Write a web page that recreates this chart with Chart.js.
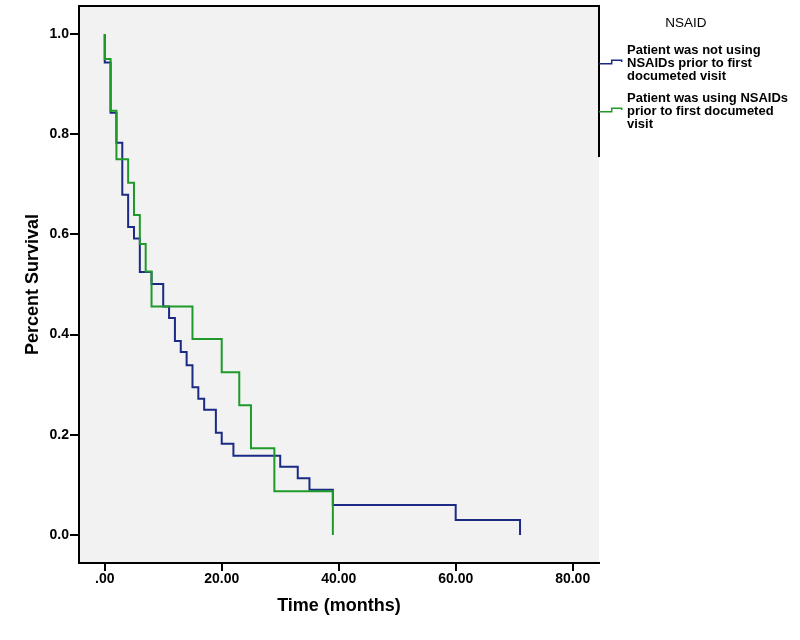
<!DOCTYPE html>
<html>
<head>
<meta charset="utf-8">
<title>NSAID survival</title>
<script src="https://cdn.jsdelivr.net/npm/chart.js@4.4.1/dist/chart.umd.min.js"></script>
<style>
  html, body { margin: 0; padding: 0; background: #fff; }
  #wrap { position: relative; width: 800px; height: 640px; }
  #legend { position: absolute; left: 0; top: 0; font-family: 'Liberation Sans', Arial, sans-serif; color: #000; }
  .lgTitle { position: absolute; left: 644px; width: 84px; top: 15px; text-align: center; font-size: 13.5px; line-height: 16px; }
  .lgItem { position: absolute; left: 599px; }
  .lgItem svg { position: absolute; left: 0; }
  .lgItem span { position: absolute; left: 28px; white-space: nowrap; font-weight: bold; font-size: 13px; line-height: 13px; }
</style>
</head>
<body>
<div id="wrap">
  <canvas id="kmChart" width="800" height="640"></canvas>
  <div id="legend"></div>
</div>
<script>
// Kaplan-Meier steps (time in months, survival after the drop)
const notUsingTime = [0, 0, 1, 2, 3, 4, 5, 6, 8, 10, 11, 12, 13, 14, 15, 16, 17, 19, 20, 22, 30, 33, 35, 39, 60, 71];
const notUsingSurv = [1.0, 0.943, 0.843, 0.783, 0.679, 0.615, 0.592, 0.525, 0.501, 0.456, 0.433, 0.387, 0.365, 0.339, 0.295, 0.272, 0.25, 0.204, 0.182, 0.158, 0.136, 0.113, 0.09, 0.06, 0.03, 0];
const usingTime = [0, 0, 1, 2, 4, 5, 6, 7, 8, 15, 20, 23, 25, 29, 39];
const usingSurv = [1.0, 0.95, 0.847, 0.75, 0.703, 0.639, 0.581, 0.526, 0.456, 0.391, 0.325, 0.259, 0.173, 0.087, 0];

const xTickValues = [0, 20, 40, 60, 80];
const xTickLabels = [".00", "20.00", "40.00", "60.00", "80.00"];
const yTickValues = [0, 0.2, 0.4, 0.6, 0.8, 1.0];
const yTickLabels = ["0.0", "0.2", "0.4", "0.6", "0.8", "1.0"];

const legendTitle = "NSAID";
const seriesNames = [
  ["Patient was not using", "NSAIDs prior to first", "documeted visit"],
  ["Patient was using NSAIDs", "prior to first documeted", "visit"],
];
const seriesColors = ["#1b2a84", "#1f9a2a"];

function toPoints(times, surv) {
  return times.map((t, i) => ({ x: t, y: surv[i] }));
}

// grey plot area plus the top frame line and the short right line by the legend
const plotFrame = {
  id: "plotFrame",
  beforeDraw(chart) {
    const { ctx, chartArea: a } = chart;
    ctx.save();
    ctx.fillStyle = "#f2f2f2";
    ctx.fillRect(a.left, a.top, a.right - a.left, a.bottom - a.top);
    ctx.restore();
  },
  afterDraw(chart) {
    const { ctx, chartArea: a } = chart;
    ctx.save();
    ctx.strokeStyle = "#000";
    ctx.lineWidth = 2;
    ctx.beginPath();
    ctx.moveTo(a.left, a.top);
    ctx.lineTo(a.right, a.top);
    ctx.lineTo(a.right, 157);
    ctx.stroke();
    ctx.restore();
  },
};

Chart.defaults.font.family = "'Liberation Sans', Arial, sans-serif";
Chart.defaults.color = "#000";

const tickFont = { size: 14, weight: "bold" };
const titleFont = { size: 18, weight: "bold" };

new Chart(document.getElementById("kmChart"), {
  type: "line",
  data: {
    datasets: [
      {
        label: seriesNames[0].join(" "),
        data: toPoints(notUsingTime, notUsingSurv),
        borderColor: seriesColors[0],
        borderWidth: 2,
        stepped: true,
        pointRadius: 0,
        order: 2,
      },
      {
        label: seriesNames[1].join(" "),
        data: toPoints(usingTime, usingSurv),
        borderColor: seriesColors[1],
        borderWidth: 2,
        stepped: true,
        pointRadius: 0,
        order: 1,
      },
    ],
  },
  options: {
    responsive: false,
    animation: false,
    layout: { padding: { top: 6, right: 201, left: 0, bottom: 0 } },
    plugins: { legend: { display: false }, tooltip: { enabled: false } },
    scales: {
      x: {
        type: "linear",
        min: -4.4,
        max: 84.5,
        afterBuildTicks: (axis) => { axis.ticks = xTickValues.map((v) => ({ value: v })); },
        afterFit: (axis) => { axis.height = 77; axis.paddingLeft = 0; axis.paddingRight = 0; },
        ticks: {
          font: tickFont,
          padding: 0,
          maxRotation: 0,
          callback: (v, i) => xTickLabels[i],
        },
        grid: { drawOnChartArea: false, color: "#000", lineWidth: 2, tickLength: 8 },
        border: { color: "#000", width: 2 },
        title: { display: true, text: "Time (months)", font: titleFont, padding: { top: 0, bottom: 23 } },
      },
      y: {
        min: -0.056,
        max: 1.056,
        afterBuildTicks: (axis) => { axis.ticks = yTickValues.map((v) => ({ value: v })); },
        afterFit: (axis) => { axis.width = 79; axis.paddingTop = 0; axis.paddingBottom = 0; },
        ticks: {
          font: tickFont,
          padding: 1,
          callback: (v, i) => yTickLabels[i],
        },
        grid: { drawOnChartArea: false, color: "#000", lineWidth: 2, tickLength: 9 },
        border: { color: "#000", width: 2 },
        title: { display: true, text: "Percent Survival", font: titleFont, padding: { top: 22, bottom: 0 } },
      },
    },
  },
  plugins: [plotFrame],
});

// legend to the right of the plot
const legend = document.getElementById("legend");
legend.innerHTML = `<div class="lgTitle">${legendTitle}</div>`;
const itemTops = [43, 91];
seriesNames.forEach((lines, i) => {
  legend.innerHTML += `<div class="lgItem" style="top:${itemTops[i]}px">
    <svg width="25" height="8" style="top:15px"><path d="M0 5.7 H12.7 V2.3 H22.7 V4" fill="none" stroke="${seriesColors[i]}" stroke-width="1.5"/></svg>
    <span>${lines.join("<br>")}</span></div>`;
});
</script>
</body>
</html>
